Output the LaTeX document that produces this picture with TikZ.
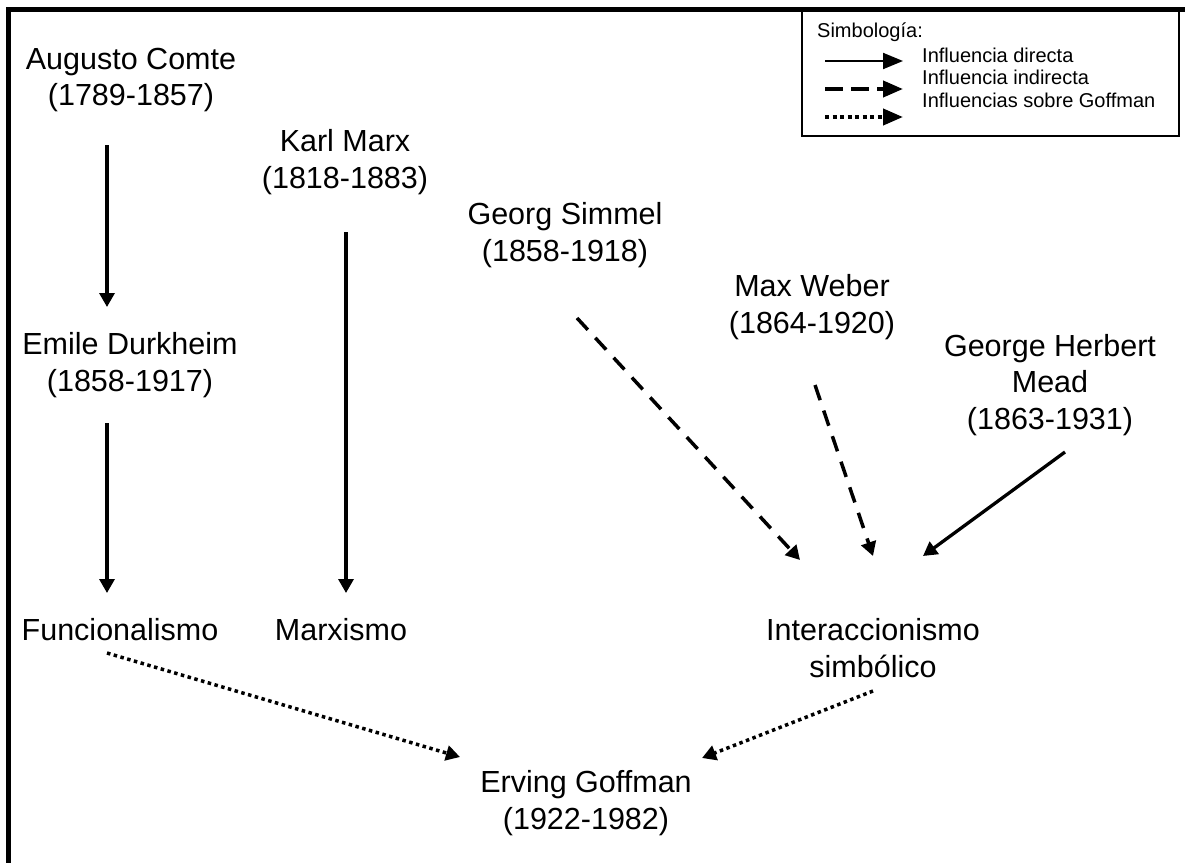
\documentclass[tikz,border=0pt]{standalone}
\usepackage{fontspec}
\setmainfont{Liberation Sans}
\usetikzlibrary{arrows.meta}
\begin{document}
\begin{tikzpicture}[x=1pt,y=-1pt,
  lbl/.style={inner sep=0pt,align=center,font=\fontsize{30.5}{36.6}\selectfont},
  leg/.style={inner sep=0pt,anchor=west,font=\fontsize{20}{22.5}\selectfont},
  tipA/.style={-{Triangle[length=14pt,width=15pt]}},
  direct/.style={tipA,line width=3.3pt},
  indirect/.style={tipA,line width=3.5pt,dash pattern=on 16pt off 11pt},
  goff/.style={tipA,line width=3.5pt,dash pattern=on 3.5pt off 3.5pt},
  legtip/.style={-{Triangle[length=20pt,width=16pt]}}]
\useasboundingbox (0,0) rectangle (1185,862);
\fill[white] (0,0) rectangle (1185,862);
% frame
\draw[line width=5.5pt] (8.5,870) -- (8.5,9.5) -- (1190,9.5);
% legend
\draw[line width=1.7pt] (802,9.5) rectangle (1179,136);
\node[leg] (lt) at (817,32) {Simbología:};
\node[leg] (l1) at (922,55) {Influencia directa};
\node[leg] (l2) at (922,77) {Influencia indirecta};
\node[leg] (l3) at (922,100) {Influencias sobre Goffman};
\draw[legtip,line width=2pt] (825,61) -- (903,61);
\draw[legtip,line width=4pt,dash pattern=on 18pt off 8pt] (825,89) -- (903,89);
\draw[legtip,line width=4pt,dash pattern=on 4pt off 3.5pt] (825,117) -- (903,117);
% nodes
\node[lbl] (comte) at (131,80) {Augusto Comte\\(1789-1857)};
\node[lbl] (durk) at (130,365) {Emile Durkheim\\(1858-1917)};
\node[lbl] (func) at (120,630) {Funcionalismo};
\node[lbl] (marx) at (345,162) {Karl Marx\\(1818-1883)};
\node[lbl] (marxismo) at (341,630) {Marxismo};
\node[lbl] (simmel) at (565,235) {Georg Simmel\\(1858-1918)};
\node[lbl] (weber) at (812,307) {Max Weber\\(1864-1920)};
\node[lbl] (mead) at (1050,385) {George Herbert\\Mead\\(1863-1931)};
\node[lbl] (inter) at (873,648) {Interaccionismo\\simbólico};
\node[lbl] (goffman) at (586,803) {Erving Goffman\\(1922-1982)};
% connectors
\draw[direct] ([shift={(-24,65)}]comte.center) -- ([shift={(-23,-58)}]durk.center);
\draw[direct] ([shift={(-23,58)}]durk.center) -- ([shift={(-13,-37)}]func.center);
\draw[direct] ([shift={(1,70)}]marx.center) -- ([shift={(5,-37)}]marxismo.center);
\draw[indirect] ([shift={(12,83)}]simmel.center) -- ([shift={(-73,-88)}]inter.center);
\draw[indirect] ([shift={(3,78)}]weber.center) -- ([shift={(0,-92)}]inter.center);
\draw[direct] ([shift={(15,67)}]mead.center) -- ([shift={(50,-92)}]inter.center);
\draw[goff] ([shift={(-13,23)}]func.center) -- ([shift={(-126,-46)}]goffman.center);
\draw[goff] ([shift={(0,43)}]inter.center) -- ([shift={(116,-45)}]goffman.center);
\end{tikzpicture}
\end{document}
